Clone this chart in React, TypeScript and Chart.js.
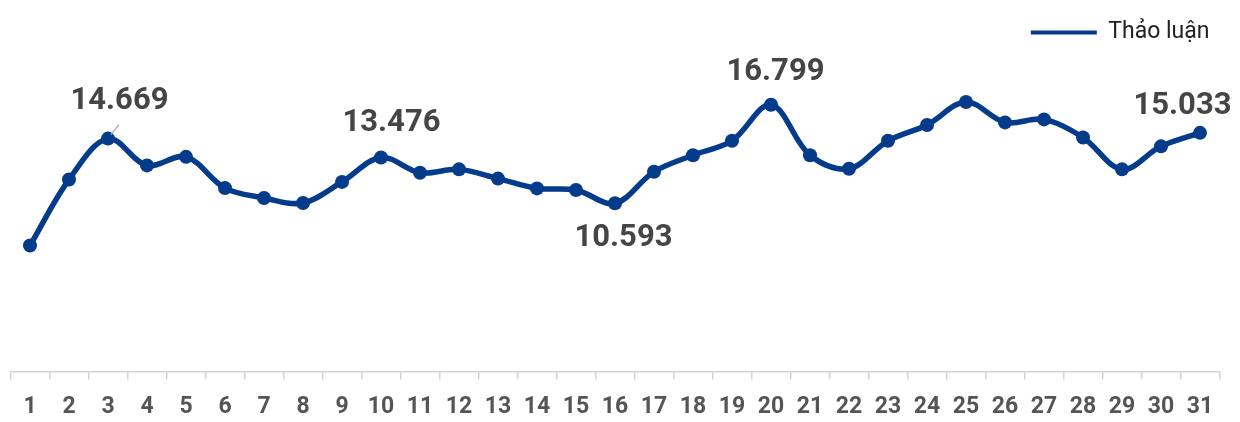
import React, { useEffect, useRef } from "react";
import { Chart, registerables } from "chart.js";

Chart.register(...registerables);

const categories = ["1","2","3","4","5","6","7","8","9","10","11","12","13","14","15","16","17","18","19","20","21","22","23","24","25","26","27","28","29","30","31"];
const seriesName = "Thảo luận";
const values = [7.93, 12.09, 14.669, 12.98, 13.52, 11.55, 10.93, 10.61, 11.94, 13.476, 12.52, 12.73, 12.15, 11.53, 11.43, 10.593, 12.58, 13.62, 14.53, 16.799, 13.62, 12.77, 14.53, 15.53, 16.98, 15.69, 15.88, 14.74, 12.73, 14.18, 15.033];
const labelledIndexes = [2, 9, 15, 19, 30];
const labelTexts = ["14.669", "13.476", "10.593", "16.799", "15.033"];

const LINE_COLOR = "#053b8b";

const valueLabelPlugin = {
  id: "valueLabels",
  afterDatasetsDraw(chart: any) {
    const meta = chart.getDatasetMeta(0);
    const ctx = chart.ctx;
    const offsets = [
      { dx: 11.5, dy: -37.5, leader: true },
      { dx: 10.5, dy: -34.5, leader: false },
      { dx: 8.5, dy: 34.5, leader: false },
      { dx: 4.5, dy: -32.5, leader: false },
      { dx: -17.5, dy: -27, leader: false },
    ];
    ctx.save();
    labelledIndexes.forEach((idx, i) => {
      const pt = meta.data[idx];
      if (!pt) return;
      const o = offsets[i];
      if (o.leader) {
        ctx.beginPath();
        ctx.strokeStyle = "#b0b0b0";
        ctx.lineWidth = 1.5;
        ctx.moveTo(pt.x + 3, pt.y - 4);
        ctx.lineTo(pt.x + 11, pt.y - 14);
        ctx.stroke();
      }
      ctx.font = "bold 31px Roboto";
      ctx.fillStyle = "#454545";
      ctx.textAlign = "center";
      ctx.textBaseline = "middle";
      ctx.fillText(labelTexts[i], pt.x + o.dx, pt.y + o.dy);
    });
    ctx.restore();
  },
};

export default function App() {
  const ref = useRef<HTMLCanvasElement | null>(null);
  useEffect(() => {
    document.body.style.margin = "0";
    Chart.defaults.font.family = "Roboto";
    const chart = new Chart(ref.current as HTMLCanvasElement, {
      type: "line",
      data: {
        labels: categories,
        datasets: [
          {
            label: seriesName,
            data: values,
            borderColor: LINE_COLOR,
            backgroundColor: LINE_COLOR,
            borderWidth: 5.5,
            pointRadius: 7,
            pointBorderWidth: 0,
            pointBackgroundColor: LINE_COLOR,
            tension: 0.35,
            fill: false,
          },
        ],
      },
      options: {
        animation: false,
        responsive: true,
        maintainAspectRatio: false,
        layout: { padding: { left: 10.5, right: 20.5, top: 11, bottom: 0 } },
        plugins: {
          tooltip: { enabled: false },
          legend: {
            position: "top",
            align: "end",
            labels: {
              usePointStyle: true,
              pointStyle: "line",
              pointStyleWidth: 66,
              color: "#222",
              padding: 10,
              font: { size: 23, family: "Roboto" },
              generateLabels(chart: any) {
                const items = Chart.defaults.plugins.legend.labels.generateLabels(chart);
                items.forEach((it: any) => {
                  it.lineWidth = 4;
                  it.pointStyle = "line";
                  it.strokeStyle = LINE_COLOR;
                });
                return items;
              },
            },
          },
        },
        scales: {
          x: {
            offset: true,
            grid: {
              display: true,
              drawOnChartArea: false,
              drawTicks: true,
              tickLength: 8,
              offset: true,
              color: "#d4d4d4",
              lineWidth: 1.5,
            },
            border: { display: true, color: "#d4d4d4", width: 1.5 },
            ticks: {
              color: "#555",
              padding: 14,
              autoSkip: false,
              maxRotation: 0,
              font: { size: 23, weight: "bold", family: "Roboto" },
            },
          },
          y: {
            display: false,
            min: 0,
            max: 20,
          },
        },
      },
      plugins: [valueLabelPlugin],
    });
    return () => chart.destroy();
  }, []);
  return (
    <div style={{ position: "fixed", left: 0, top: 0, width: 1240, height: 435, background: "#fff" }}>
      <canvas ref={ref} />
    </div>
  );
}
